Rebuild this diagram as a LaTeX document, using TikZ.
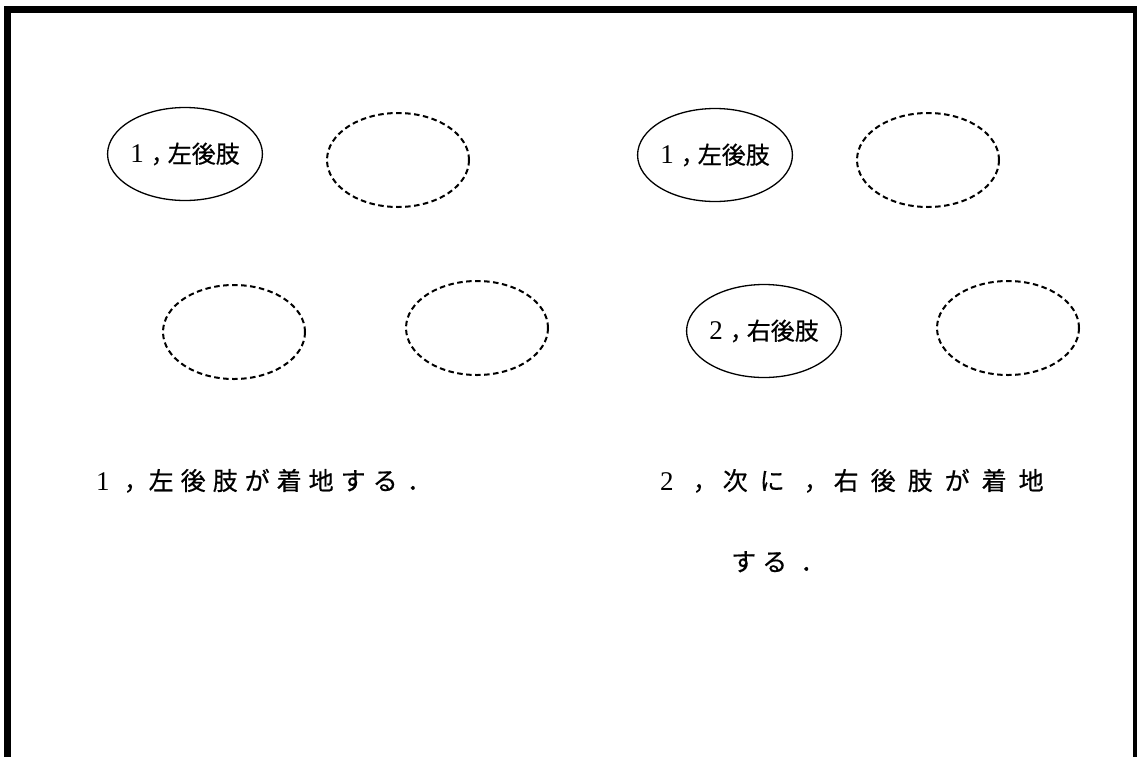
\documentclass[tikz,border=0pt]{standalone}
\usepackage{fontspec}
\setmainfont{Liberation Serif}
\newfontfamily\jp[FakeBold=0.6]{Noto Sans CJK JP}
\usetikzlibrary{shapes.geometric}
\makeatletter
\newcommand\spacedtext[2]{\@tfor\spch:=#2\do{{\spch}\hspace{#1}}}
\makeatother
\newcommand\dig[1]{{\rmfamily\fontsize{27pt}{27pt}\selectfont #1}}
\newcommand\cmm{\kern7pt，\kern-7pt}
\tikzset{
  limb/.style={ellipse, draw, line width=1.3pt, minimum width=140pt, minimum height=93pt, inner sep=0pt,
    font=\jp\fontsize{24pt}{24pt}\selectfont},
  emptylimb/.style={ellipse, draw, line width=2pt, dash pattern=on 5.5pt off 3.5pt, minimum width=142pt, minimum height=94pt, inner sep=0pt},
  caption/.style={anchor=base west, inner sep=0pt, font=\jp\fontsize{25pt}{25pt}\selectfont}
}
\begin{document}
\begin{tikzpicture}[x=1pt,y=-1pt]
\useasboundingbox (0,0) rectangle (1137,756);
\begin{scope}
\clip (0,0) rectangle (1137,756);
\draw[line width=7pt, line join=miter] (7.5,770) -- (7.5,9.5) -- (1136.5,9.5) -- (1136.5,770);
\end{scope}
% left panel
\node[limb] (l1) at (185,154) {\dig{1}\cmm 左後肢};
\node[emptylimb] (l2) at (398,160) {};
\node[emptylimb] (l3) at (234,332) {};
\node[emptylimb] (l4) at (477,328) {};
% right panel
\node[limb] (r1) at (715,155) {\dig{1}\cmm 左後肢};
\node[emptylimb] (r2) at (928,160) {};
\node[limb] (r3) at (764,331) {\dig{2}\cmm 右後肢};
\node[emptylimb] (r4) at (1008,328) {};
% captions
\node[caption] (c1) at (96,490) {\spacedtext{7pt}{{\dig{1}}{\cmm}左後肢が着地する{\kern-5pt}．}};
\node[caption] (c2) at (660,490) {\spacedtext{12pt}{{\dig{2}}{\cmm}次に{\cmm}右後肢が着地}};
\node[caption] (c3) at (731,571) {\spacedtext{6pt}{する{\kern1pt}．}};
\end{tikzpicture}
\end{document}
